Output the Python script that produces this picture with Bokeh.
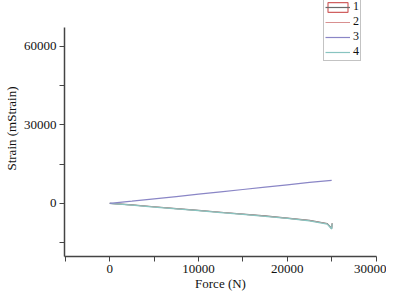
from bokeh.plotting import figure
from bokeh.models import FixedTicker, Legend, LegendItem
from bokeh.embed import file_html
from bokeh.resources import INLINE

force_up = [0, 2500, 5000, 7500, 10000, 12500, 15000, 17500, 20000, 22500, 25000]
strain_3 = [0, 850, 1750, 2600, 3500, 4400, 5300, 6200, 7100, 8000, 8800]

force_low = [0, 2500, 5000, 7500, 10000, 12500, 15000, 17500, 20000, 22500, 24500, 25000, 25050]
strain_1 = [0, -600, -1300, -2000, -2700, -3400, -4100, -4800, -5600, -6500, -7700, -9600, -7600]
strain_2 = [0, -650, -1350, -2050, -2750, -3450, -4150, -4900, -5700, -6600, -7800, -9700, -7700]
strain_4 = [0, -700, -1400, -2100, -2800, -3500, -4200, -4950, -5750, -6700, -7900, -9800, -7800]

labels = ["1", "2", "3", "4"]
x_title = "Force (N)"
y_title = "Strain (mStrain)"

FONT = "Liberation Serif"
NAN = float("nan")

p = figure(frame_width=312, frame_height=256, output_backend="svg", toolbar_location=None,
           x_range=(-5100, 30050), y_range=(-20300, 77520),
           min_border_left=55, min_border_right=10, min_border_top=0, min_border_bottom=40)
p.outline_line_color = None
p.xgrid.visible = False
p.ygrid.visible = False

p.xaxis.ticker = FixedTicker(ticks=[0, 10000, 20000, 30000], minor_ticks=[-5000, 5000, 15000, 25000])
p.yaxis.ticker = FixedTicker(ticks=[0, 30000, 60000], minor_ticks=[-15000, 15000, 45000])
p.yaxis.bounds = (-20300, 67200)
for ax in (p.xaxis[0], p.yaxis[0]):
    ax.axis_line_color = "#444444"
    ax.axis_line_width = 1.5
    ax.major_tick_line_color = "#444444"
    ax.minor_tick_line_color = "#444444"
    ax.major_tick_in = 0
    ax.major_tick_out = 5
    ax.minor_tick_in = 0
    ax.minor_tick_out = 5
    ax.major_label_text_font = FONT
    ax.major_label_text_font_size = "13px"
    ax.major_label_text_color = "#111111"
    ax.axis_label_text_font = FONT
    ax.axis_label_text_font_size = "13px"
    ax.axis_label_text_font_style = "normal"
    ax.axis_label_text_color = "#111111"
    ax.major_label_standoff = 3
    ax.axis_label_standoff = 0
p.xaxis.axis_label = x_title
p.yaxis.axis_label = y_title
p.yaxis.axis_label_standoff = 2
p.yaxis.major_label_orientation = "horizontal"

c1, c2, c3, c4 = "#6a6a6a", "#d89090", "#8a86c6", "#88c4c0"

r1 = p.line(force_low, strain_1, line_color=c1, line_width=1.2)
r2 = p.line(force_low, strain_2, line_color=c2, line_width=1.0)
r4 = p.line(force_low, strain_4, line_color=c4, line_width=1.2)
r3 = p.line(force_up, strain_3, line_color=c3, line_width=1.2)
rbox = p.quad(left=[NAN], right=[NAN], top=[NAN], bottom=[NAN],
              fill_color="white", fill_alpha=0, line_color="#d06060", line_width=1.2)

legend = Legend(items=[
    LegendItem(label=labels[0], renderers=[rbox, r1]),
    LegendItem(label=labels[1], renderers=[r2]),
    LegendItem(label=labels[2], renderers=[r3]),
    LegendItem(label=labels[3], renderers=[r4]),
], location=(259, 195))
legend.label_text_font = FONT
legend.label_text_font_size = "12px"
legend.label_text_color = "#111111"
legend.glyph_width = 25
legend.glyph_height = 12
legend.label_height = 12
legend.label_width = 6
legend.spacing = 0
legend.padding = 1
legend.margin = 0
legend.label_standoff = 3
legend.border_line_color = "#888888"
legend.background_fill_color = "white"
legend.background_fill_alpha = 1
p.add_layout(legend)

open("out.html", "w").write(file_html(p, INLINE))
